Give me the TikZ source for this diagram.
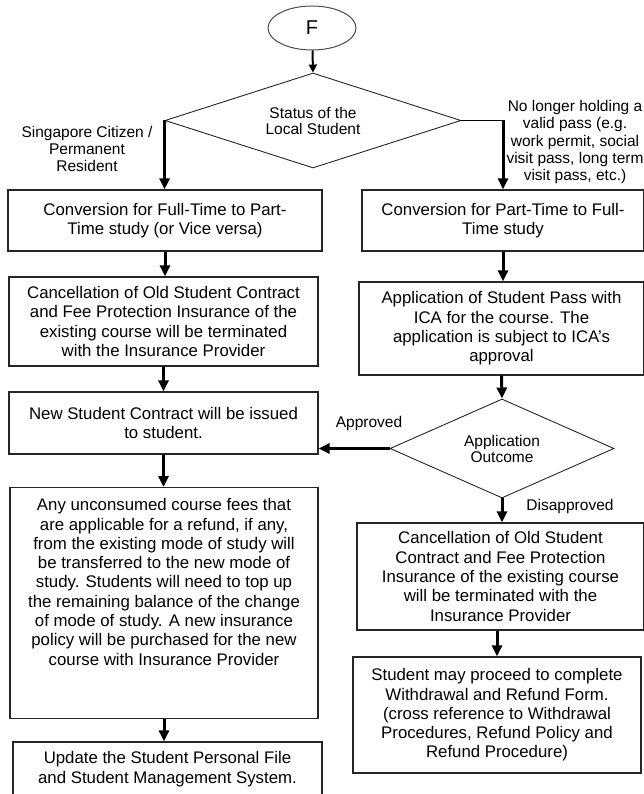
\documentclass[tikz,border=0pt]{standalone}
\usepackage{fontspec}
\setmainfont{Liberation Sans}
\usetikzlibrary{shapes.geometric,arrows.meta}

\begin{document}
\begin{tikzpicture}[x=1pt,y=-1pt,
    stepbox/.style={draw=black!85,line width=1.2pt,align=center,inner sep=0pt,
      font=\fontsize{16.8}{19.3}\selectfont},
    choice/.style={diamond,draw=black!85,line width=0.9pt,align=center,inner sep=0pt,
      font=\fontsize{15.5}{16}\selectfont},
    branch/.style={align=center,inner sep=0pt,font=\fontsize{15.5}{17.3}\selectfont},
    flow/.style={-{Triangle[width=10pt,length=11pt]},line width=3pt}]
  \useasboundingbox (0,0) rectangle (643,794);
  \node[ellipse,draw=black!70,line width=1pt,minimum width=88pt,minimum height=44pt,
    font=\fontsize{20}{20}\selectfont] (start) at (312,28) {F};
  \node[choice,aspect=3,minimum width=296pt,minimum height=95pt] (status) at (313,120.5)
    {Status of the\\Local Student};

  \node[stepbox,minimum width=314pt,minimum height=61pt] (fullpart) at (165,220.5)
    {Conversion for Full-Time to Part-\\Time study (or Vice versa)};
  \node[stepbox,minimum width=309pt,minimum height=89pt] (oldcontract) at (163.5,321.5)
    {Cancellation of Old Student Contract\\and Fee Protection Insurance of the\\existing course will be terminated\\with the Insurance Provider};
  \node[stepbox,minimum width=309pt,minimum height=62pt] (newcontract) at (163.5,423)
    {New Student Contract will be issued\\to student.};
  % text kept at the top of the tall box
  \node[stepbox,minimum width=308pt,text depth=42pt,inner ysep=11pt] (fees) at (164,487) [anchor=north]
    {Any unconsumed course fees that\\are applicable for a refund, if any,\\from the existing mode of study will\\be transferred to the new mode of\\study. Students will need to top up\\the remaining balance of the change\\of mode of study. A new insurance\\policy will be purchased for the new\\course with Insurance Provider};
  \node[stepbox,minimum width=309pt,minimum height=54pt] (update) at (167.5,769)
    {Update the Student Personal File\\and Student Management System.};

  \node[stepbox,minimum width=282pt,minimum height=61pt] (partfull) at (503,220.5)
    {Conversion for Part-Time to Full-\\Time study};
  \node[stepbox,minimum width=285pt,minimum height=93pt] (pass) at (501.5,328.5)
    {Application of Student Pass with\\ICA for the course. The\\application is subject to ICA's\\approval};
  \node[choice,aspect=2,minimum width=224pt,minimum height=99pt] (outcome) at (502,448.5)
    {Application\\Outcome};
  \node[stepbox,minimum width=287pt,minimum height=107pt] (cancel) at (500.5,576.5)
    {Cancellation of Old Student\\Contract and Fee Protection\\Insurance of the existing course\\will be terminated with the\\Insurance Provider};
  \node[stepbox,minimum width=288pt,minimum height=116pt] (withdraw) at (497,715)
    {Student may proceed to complete\\Withdrawal and Refund Form.\\(cross reference to Withdrawal\\Procedures, Refund Policy and\\Refund Procedure)};

  \node[branch] (citizen) at (87,149) {Singapore Citizen /\\Permanent\\Resident};
  \node[branch] (nopass) at (575,142) {No longer holding a\\valid pass (e.g.\\work permit, social\\visit pass, long term\\visit pass, etc.)};
  \node[branch] (approved) at (369,423) {Approved};
  \node[branch] (disapproved) at (570,506) {Disapproved};

  \draw[-{Triangle[width=8pt,length=8pt]},line width=2pt] (start) -- (status.north);
  \draw[flow] (status.west) -- (status.west |- fullpart.north);
  \draw[line width=1pt] (status.east) -- (status.east -| partfull.north);
  \draw[flow] (status.east -| partfull.north) -- (partfull.north);
  \draw[flow] (fullpart.south) -- (fullpart.south |- oldcontract.north);
  \draw[flow] (oldcontract.south) -- (oldcontract.south |- newcontract.north);
  \draw[flow] (newcontract.south) -- (newcontract.south |- fees.north);
  \draw[flow] (fees.south) -- (fees.south |- update.north);
  \draw[flow] (partfull.south) -- (partfull.south |- pass.north);
  \draw[flow] (pass.south) -- (outcome.north);
  \draw[flow] (outcome.west) -- (outcome.west -| newcontract.east);
  \draw[flow] (outcome.south) -- (outcome.south |- cancel.north);
  \draw[flow] (withdraw.north |- cancel.south) -- (withdraw.north);
\end{tikzpicture}
\end{document}
